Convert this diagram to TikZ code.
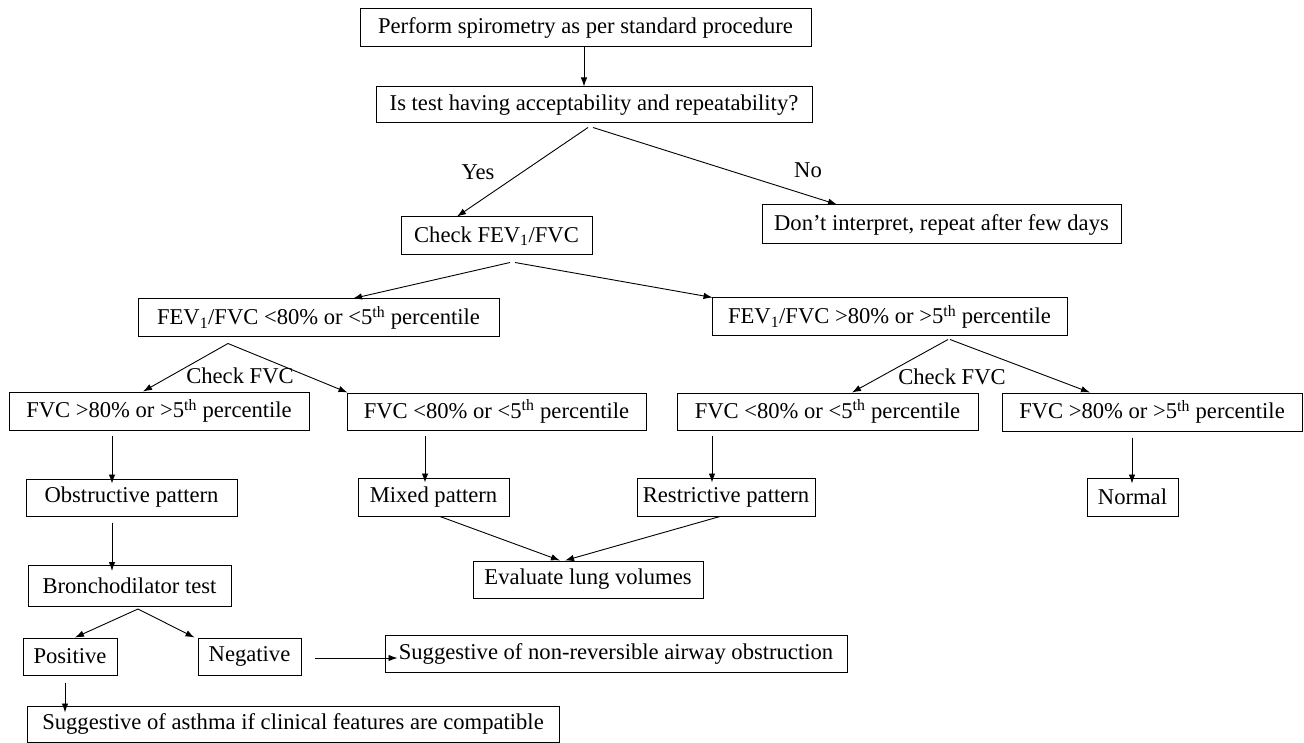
\documentclass[tikz,border=0pt]{standalone}
\usepackage{fontspec}
\setmainfont{Liberation Serif}
\usetikzlibrary{arrows.meta,calc}
\begin{document}
\begin{tikzpicture}[x=1pt,y=-1pt,
  every node/.style={font=\fontsize{22.6}{26}\selectfont, text=black},
  box/.style={draw=black, line width=1pt, inner sep=0pt, align=center},
  lbl/.style={inner sep=0pt},
  arr/.style={line width=0.9pt, -{Latex[length=9pt,width=6.5pt]}},
  ln/.style={line width=0.9pt}]
\useasboundingbox (0,0) rectangle (1304,743);
% nodes
\node[box, minimum width=451pt, minimum height=38pt] (perform) at (585.5,28) {Perform spirometry as per standard procedure};
\node[box, minimum width=436pt, minimum height=36pt] (istest) at (594,105) {Is test having acceptability and repeatability?};
\node[box, minimum width=191pt, minimum height=38pt] (check) at (496.5,236) {Check FEV\textsubscript{1}/FVC};
\node[box, minimum width=359pt, minimum height=39pt] (dont) at (941.5,224.5) {Don’t interpret, repeat after few days};
\node[box, minimum width=361pt, minimum height=38pt] (fevlow) at (318.5,318) {FEV\textsubscript{1}/FVC <80\% or <5\textsuperscript{th} percentile};
\node[box, minimum width=355pt, minimum height=38pt] (fevhigh) at (889.5,317) {FEV\textsubscript{1}/FVC >80\% or >5\textsuperscript{th} percentile};
\node[box, minimum width=300pt, minimum height=38pt] (fvcA) at (159,411) {FVC >80\% or >5\textsuperscript{th} percentile};
\node[box, minimum width=299pt, minimum height=37pt] (fvcB) at (496.5,411.5) {FVC <80\% or <5\textsuperscript{th} percentile};
\node[box, minimum width=301pt, minimum height=37pt] (fvcC) at (827.5,411.5) {FVC <80\% or <5\textsuperscript{th} percentile};
\node[box, minimum width=300pt, minimum height=38pt] (fvcD) at (1152,412) {FVC >80\% or >5\textsuperscript{th} percentile};
\node[box, minimum width=211pt, minimum height=37pt] (obstr) at (131.5,497.5) {Obstructive pattern};
\node[box, minimum width=151pt, minimum height=38pt] (mixed) at (433.5,497) {Mixed pattern};
\node[box, minimum width=178pt, minimum height=38pt] (restr) at (726,497) {Restrictive pattern};
\node[box, minimum width=91pt, minimum height=38pt] (normal) at (1132.5,497) {Normal};
\node[box, minimum width=230pt, minimum height=37pt] (evaluate) at (588,579.5) {Evaluate lung volumes};
\node[box, minimum width=203pt, minimum height=41pt] (broncho) at (129.5,586) {Bronchodilator test};
\node[box, minimum width=94pt, minimum height=37pt] (positive) at (70,656.5) {Positive};
\node[box, minimum width=103pt, minimum height=37pt] (negative) at (249.5,656.5) {Negative};
\node[box, minimum width=462pt, minimum height=37pt] (nonrev) at (616,653.5) {Suggestive of non-reversible airway obstruction};
\node[box, minimum width=532pt, minimum height=36pt] (asthma) at (293,724) {Suggestive of asthma if clinical features are compatible};
% labels
\node[lbl] (yes) at (478,172) {Yes};
\node[lbl] (no) at (808,170) {No};
\node[lbl] (chkA) at (240,376) {Check FVC};
\node[lbl] (chkB) at (952,377) {Check FVC};
% connectors
\draw[arr] ([xshift=-1.5pt]perform.south) -- ([xshift=-1.5pt]perform.south |- istest.north);
\draw[arr] ([xshift=-6pt,yshift=-4pt]istest.south) -- ([xshift=-39.5pt]check.north);
\draw[arr] ([xshift=-1pt,yshift=-4pt]istest.south) -- ([xshift=-104.5pt]dont.north);
\draw[arr] ([xshift=13.5pt,yshift=-7pt]check.south) -- ([xshift=34.5pt]fevlow.north);
\draw[arr] ([xshift=18.5pt,yshift=-7pt]check.south) -- ([xshift=1pt]fevhigh.north west);
\draw[arr] ([xshift=-90.5pt,yshift=-6pt]fevlow.south) -- ([xshift=-16pt]fvcA.north);
\draw[arr] ([xshift=-90.5pt,yshift=-6pt]fevlow.south) -- ([xshift=1pt]fvcB.north west);
\draw[arr] ([xshift=58.5pt,yshift=-3pt]fevhigh.south) -- ([xshift=24.5pt]fvcC.north);
\draw[arr] ([xshift=60.5pt,yshift=-3pt]fevhigh.south) -- ([xshift=-62pt]fvcD.north);
\draw[arr] ([xshift=-47pt,yshift=-5pt]fvcA.south) -- ([xshift=-47pt,yshift=-5pt]fvcA.south |- obstr.north);
\draw[arr] ([xshift=-71.5pt,yshift=-5pt]fvcB.south) -- ([xshift=-71.5pt,yshift=-5pt]fvcB.south |- mixed.north);
\draw[arr] ([xshift=-115.5pt,yshift=-5pt]fvcC.south) -- ([xshift=-115.5pt,yshift=-5pt]fvcC.south |- restr.north);
\draw[arr] ([xshift=-20pt,yshift=-6pt]fvcD.south) -- ([xshift=-20pt,yshift=-6pt]fvcD.south |- normal.north);
\draw[arr] ([xshift=6.5pt]mixed.south) -- ([xshift=-28pt]evaluate.north);
\draw[arr] ([xshift=-6pt]restr.south) -- ([xshift=-23pt]evaluate.north);
\draw[arr] ([xshift=-19.5pt,yshift=-6pt]obstr.south) -- ([xshift=-19.5pt,yshift=-6pt]obstr.south |- broncho.north);
\draw[arr] ([xshift=8.5pt,yshift=-2pt]broncho.south) -- ([xshift=5pt]positive.north);
\draw[arr] ([xshift=8.5pt,yshift=-2pt]broncho.south) -- ([xshift=-3pt]negative.north west);
\draw[arr] ([xshift=13pt,yshift=-1.5pt]negative.east) -- ([xshift=13pt,yshift=-1.5pt]negative.east -| nonrev.west);
\draw[arr] ([xshift=-5pt,yshift=-7pt]positive.south) -- ([xshift=-5pt,yshift=-7pt]positive.south |- asthma.north);
\end{tikzpicture}
\end{document}
